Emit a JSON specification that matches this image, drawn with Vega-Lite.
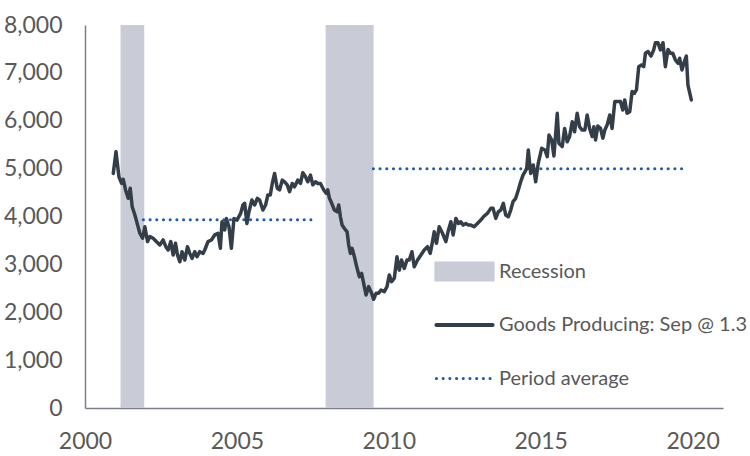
{
  "$schema": "https://vega.github.io/schema/vega-lite/v6.json",
  "width": 638,
  "height": 383,
  "autosize": {"type": "none"},
  "padding": {"left": 85, "top": 25, "right": 27, "bottom": 48},
  "background": "white",
  "config": {
    "view": {"stroke": null},
    "font": "Lato",
    "axis": {"labelFont": "Lato", "labelColor": "#595959", "labelFontSize": 23, "grid": false, "ticks": false, "domainColor": "#7a7f88", "domainWidth": 1.5, "title": null, "labelFlush": false}
  },
  "datasets": {
    "rec": [
      {"start": 2001.17, "end": 2001.95, "series": "Recession"},
      {"start": 2007.92, "end": 2009.5, "series": "Recession"}
    ],
    "avg": [
      {"start": 2001.92, "end": 2007.65, "v": 3930, "series": "Period average"},
      {"start": 2009.49, "end": 2019.8, "v": 5000, "series": "Period average"}
    ],
    "goods": [
      {"t": 2000.93, "v": 4900}, {"t": 2001.02, "v": 5355}, {"t": 2001.117, "v": 4830}, {"t": 2001.205, "v": 4690},
      {"t": 2001.258, "v": 4775}, {"t": 2001.337, "v": 4550}, {"t": 2001.422, "v": 4380}, {"t": 2001.488, "v": 4590},
      {"t": 2001.553, "v": 4205}, {"t": 2001.642, "v": 4030}, {"t": 2001.731, "v": 3820}, {"t": 2001.806, "v": 3650},
      {"t": 2001.895, "v": 3545}, {"t": 2001.97, "v": 3785}, {"t": 2002.059, "v": 3475}, {"t": 2002.135, "v": 3580},
      {"t": 2002.243, "v": 3545}, {"t": 2002.355, "v": 3475}, {"t": 2002.463, "v": 3405}, {"t": 2002.571, "v": 3510},
      {"t": 2002.66, "v": 3370}, {"t": 2002.736, "v": 3300}, {"t": 2002.824, "v": 3475}, {"t": 2002.9, "v": 3195},
      {"t": 2002.979, "v": 3440}, {"t": 2003.044, "v": 3195}, {"t": 2003.12, "v": 3055}, {"t": 2003.195, "v": 3265},
      {"t": 2003.284, "v": 3090}, {"t": 2003.373, "v": 3370}, {"t": 2003.448, "v": 3230}, {"t": 2003.524, "v": 3125},
      {"t": 2003.612, "v": 3265}, {"t": 2003.688, "v": 3160}, {"t": 2003.777, "v": 3265}, {"t": 2003.885, "v": 3230},
      {"t": 2003.941, "v": 3300}, {"t": 2004.049, "v": 3475}, {"t": 2004.161, "v": 3510}, {"t": 2004.269, "v": 3615},
      {"t": 2004.378, "v": 3650}, {"t": 2004.456, "v": 3335}, {"t": 2004.509, "v": 3890}, {"t": 2004.598, "v": 3720},
      {"t": 2004.654, "v": 3960}, {"t": 2004.739, "v": 3785}, {"t": 2004.818, "v": 3335}, {"t": 2004.903, "v": 3960},
      {"t": 2005.002, "v": 3925}, {"t": 2005.123, "v": 4065}, {"t": 2005.199, "v": 4240}, {"t": 2005.255, "v": 4275},
      {"t": 2005.33, "v": 3855}, {"t": 2005.396, "v": 4100}, {"t": 2005.494, "v": 4345}, {"t": 2005.583, "v": 4240},
      {"t": 2005.672, "v": 4380}, {"t": 2005.747, "v": 4345}, {"t": 2005.856, "v": 4135}, {"t": 2005.944, "v": 4240},
      {"t": 2006.02, "v": 4450}, {"t": 2006.099, "v": 4450}, {"t": 2006.164, "v": 4690}, {"t": 2006.24, "v": 4900},
      {"t": 2006.328, "v": 4590}, {"t": 2006.404, "v": 4555}, {"t": 2006.493, "v": 4760}, {"t": 2006.568, "v": 4725},
      {"t": 2006.657, "v": 4660}, {"t": 2006.732, "v": 4520}, {"t": 2006.821, "v": 4690}, {"t": 2006.897, "v": 4620},
      {"t": 2007.005, "v": 4760}, {"t": 2007.094, "v": 4690}, {"t": 2007.169, "v": 4915}, {"t": 2007.258, "v": 4830},
      {"t": 2007.333, "v": 4725}, {"t": 2007.422, "v": 4865}, {"t": 2007.498, "v": 4660}, {"t": 2007.586, "v": 4725},
      {"t": 2007.662, "v": 4690}, {"t": 2007.75, "v": 4690}, {"t": 2007.859, "v": 4555}, {"t": 2007.938, "v": 4485},
      {"t": 2007.99, "v": 4555}, {"t": 2008.046, "v": 4380}, {"t": 2008.121, "v": 4275}, {"t": 2008.21, "v": 4135},
      {"t": 2008.299, "v": 4100}, {"t": 2008.351, "v": 4240}, {"t": 2008.407, "v": 3995}, {"t": 2008.463, "v": 3820},
      {"t": 2008.539, "v": 3750}, {"t": 2008.627, "v": 3680}, {"t": 2008.68, "v": 3405}, {"t": 2008.736, "v": 3230},
      {"t": 2008.791, "v": 3335}, {"t": 2008.867, "v": 3160}, {"t": 2008.943, "v": 2950}, {"t": 2009.031, "v": 2740},
      {"t": 2009.107, "v": 2810}, {"t": 2009.172, "v": 2605}, {"t": 2009.251, "v": 2360}, {"t": 2009.337, "v": 2535},
      {"t": 2009.415, "v": 2430}, {"t": 2009.501, "v": 2270}, {"t": 2009.58, "v": 2395}, {"t": 2009.665, "v": 2395},
      {"t": 2009.744, "v": 2465}, {"t": 2009.852, "v": 2430}, {"t": 2009.941, "v": 2535}, {"t": 2010.016, "v": 2780},
      {"t": 2010.092, "v": 2640}, {"t": 2010.181, "v": 2710}, {"t": 2010.269, "v": 3160}, {"t": 2010.345, "v": 2880},
      {"t": 2010.42, "v": 3090}, {"t": 2010.509, "v": 2915}, {"t": 2010.598, "v": 3090}, {"t": 2010.673, "v": 3090},
      {"t": 2010.762, "v": 3265}, {"t": 2010.837, "v": 2950}, {"t": 2010.946, "v": 3090}, {"t": 2011.057, "v": 3195},
      {"t": 2011.166, "v": 3300}, {"t": 2011.274, "v": 3370}, {"t": 2011.363, "v": 3230}, {"t": 2011.438, "v": 3475},
      {"t": 2011.494, "v": 3680}, {"t": 2011.57, "v": 3440}, {"t": 2011.658, "v": 3785}, {"t": 2011.767, "v": 3650},
      {"t": 2011.878, "v": 3475}, {"t": 2011.964, "v": 3720}, {"t": 2012.043, "v": 3890}, {"t": 2012.118, "v": 3615},
      {"t": 2012.207, "v": 3960}, {"t": 2012.292, "v": 3855}, {"t": 2012.371, "v": 3890}, {"t": 2012.447, "v": 3820},
      {"t": 2012.535, "v": 3855}, {"t": 2012.621, "v": 3820}, {"t": 2012.699, "v": 3820}, {"t": 2012.808, "v": 3785},
      {"t": 2012.916, "v": 3855}, {"t": 2013.028, "v": 3925}, {"t": 2013.136, "v": 4010}, {"t": 2013.245, "v": 4065},
      {"t": 2013.356, "v": 4170}, {"t": 2013.432, "v": 4170}, {"t": 2013.52, "v": 3960}, {"t": 2013.606, "v": 4100},
      {"t": 2013.685, "v": 4135}, {"t": 2013.77, "v": 4275}, {"t": 2013.849, "v": 4030}, {"t": 2013.934, "v": 3995},
      {"t": 2014.013, "v": 4135}, {"t": 2014.089, "v": 4310}, {"t": 2014.177, "v": 4380}, {"t": 2014.263, "v": 4555},
      {"t": 2014.341, "v": 4725}, {"t": 2014.417, "v": 4865}, {"t": 2014.483, "v": 4935}, {"t": 2014.539, "v": 5005},
      {"t": 2014.591, "v": 5390}, {"t": 2014.67, "v": 4900}, {"t": 2014.755, "v": 5075}, {"t": 2014.834, "v": 4725},
      {"t": 2014.919, "v": 5110}, {"t": 2015.031, "v": 5425}, {"t": 2015.14, "v": 5390}, {"t": 2015.215, "v": 5250},
      {"t": 2015.271, "v": 5700}, {"t": 2015.36, "v": 5600}, {"t": 2015.435, "v": 5265}, {"t": 2015.544, "v": 6155},
      {"t": 2015.599, "v": 5530}, {"t": 2015.708, "v": 5460}, {"t": 2015.787, "v": 5840}, {"t": 2015.872, "v": 5560},
      {"t": 2015.951, "v": 5670}, {"t": 2016.036, "v": 5980}, {"t": 2016.115, "v": 5770}, {"t": 2016.2, "v": 6155},
      {"t": 2016.279, "v": 5875}, {"t": 2016.365, "v": 5805}, {"t": 2016.453, "v": 5805}, {"t": 2016.529, "v": 6120},
      {"t": 2016.608, "v": 5840}, {"t": 2016.693, "v": 5670}, {"t": 2016.749, "v": 5875}, {"t": 2016.805, "v": 5600},
      {"t": 2016.88, "v": 5890}, {"t": 2016.969, "v": 5840}, {"t": 2017.044, "v": 5635}, {"t": 2017.11, "v": 5805},
      {"t": 2017.186, "v": 5910}, {"t": 2017.274, "v": 6120}, {"t": 2017.35, "v": 5840}, {"t": 2017.438, "v": 6400},
      {"t": 2017.547, "v": 6400}, {"t": 2017.626, "v": 6400}, {"t": 2017.701, "v": 6225}, {"t": 2017.767, "v": 6435},
      {"t": 2017.842, "v": 6155}, {"t": 2017.931, "v": 6190}, {"t": 2018.007, "v": 6610}, {"t": 2018.085, "v": 6575},
      {"t": 2018.151, "v": 6645}, {"t": 2018.227, "v": 7130}, {"t": 2018.315, "v": 7165}, {"t": 2018.391, "v": 7130},
      {"t": 2018.447, "v": 7410}, {"t": 2018.532, "v": 7445}, {"t": 2018.631, "v": 7350}, {"t": 2018.719, "v": 7480},
      {"t": 2018.775, "v": 7630}, {"t": 2018.86, "v": 7630}, {"t": 2018.939, "v": 7480}, {"t": 2019.025, "v": 7630},
      {"t": 2019.103, "v": 7130}, {"t": 2019.189, "v": 7490}, {"t": 2019.268, "v": 7410}, {"t": 2019.346, "v": 7410},
      {"t": 2019.432, "v": 7270}, {"t": 2019.517, "v": 7200}, {"t": 2019.573, "v": 7305}, {"t": 2019.649, "v": 7060},
      {"t": 2019.727, "v": 7235}, {"t": 2019.793, "v": 7350}, {"t": 2019.846, "v": 6745}, {"t": 2019.957, "v": 6435}
    ]
  },
  "layer": [
    {
      "data": {"name": "rec"},
      "mark": {"type": "rect", "color": "#c9ccd6"},
      "encoding": {
        "x": {"field": "start", "type": "quantitative", "scale": {"domain": [2000, 2021], "nice": false, "zero": false},
              "axis": {"values": [2000, 2005, 2010, 2015, 2020], "format": "d", "labelPadding": 22}},
        "x2": {"field": "end"},
        "color": {"field": "series", "type": "nominal",
          "scale": {"domain": ["Recession", "Goods Producing: Sep @ 1.3", "Period average"], "range": ["#c9ccd6", "#343e48", "#1f5ba8"]},
          "legend": {
            "title": null, "orient": "none", "legendX": 351, "legendY": 220, "padding": 0,
            "symbolSize": 2809, "labelFont": "Lato", "labelFontSize": 20, "labelColor": "#595959", "labelOffset": 6,
            "rowPadding": 10.5, "symbolStrokeWidth": 4, "labelLimit": 400, "gridAlign": "all",
            "encode": {
              "entries": {"update": {"height": {"value": 53}, "width": {"value": 300}}},
              "symbols": {"update": {
                "x": {"value": 28.5},
                "y": {"value": 26.5},
                "shape": {"signal": "datum.value === 'Recession' ? 'M-1.06,-0.3H1.06V0.3H-1.06Z' : 'M-1.06,0H1.06'"},
                "fill": {"signal": "datum.value === 'Recession' ? '#c9ccd6' : 'transparent'"},
                "stroke": {"signal": "datum.value === 'Recession' ? 'transparent' : (datum.value === 'Period average' ? '#1f5ba8' : '#343e48')"},
                "strokeWidth": {"signal": "datum.value === 'Period average' ? 3 : 4"},
                "strokeDash": {"signal": "datum.value === 'Period average' ? [0.1, 6.6] : [1, 0]"},
                "strokeCap": {"value": "round"},
                "opacity": {"value": 1}
              }},
              "labels": {"update": {
                "x": {"value": 63},
                "y": {"value": 26.5},
                "baseline": {"value": "middle"},
                "opacity": {"value": 1}
              }}
            }
          }
        }
      }
    },
    {
      "data": {"name": "avg"},
      "mark": {"type": "rule", "strokeWidth": 3, "strokeDash": [0.1, 6.6], "strokeCap": "round"},
      "encoding": {
        "x": {"field": "start", "type": "quantitative"},
        "x2": {"field": "end"},
        "y": {"field": "v", "type": "quantitative", "scale": {"domain": [0, 8000], "nice": false},
              "axis": {"values": [0, 1000, 2000, 3000, 4000, 5000, 6000, 7000, 8000], "format": ",.0f", "labelPadding": 23}},
        "color": {"field": "series", "type": "nominal"}
      }
    },
    {
      "data": {"name": "goods"},
      "transform": [{"calculate": "'Goods Producing: Sep @ 1.3'", "as": "series"}],
      "mark": {"type": "line", "strokeWidth": 3.5, "strokeJoin": "round", "strokeCap": "round"},
      "encoding": {
        "x": {"field": "t", "type": "quantitative"},
        "y": {"field": "v", "type": "quantitative"},
        "color": {"field": "series", "type": "nominal"}
      }
    }
  ]
}
